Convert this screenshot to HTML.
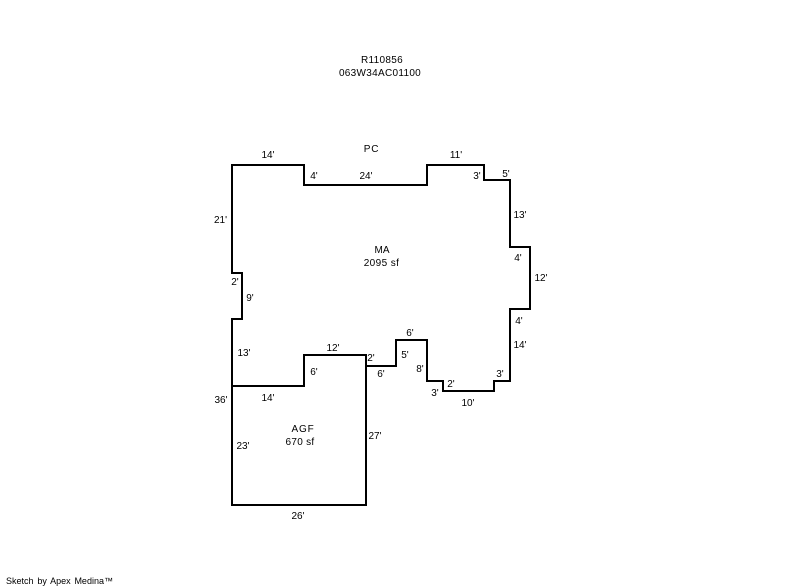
<!DOCTYPE html>
<html><head><meta charset="utf-8"><style>
html,body{margin:0;padding:0;background:#fff;width:800px;height:587px;overflow:hidden}
svg{display:block}
text{font-family:"Liberation Sans",sans-serif;font-size:10px;fill:#000;text-anchor:middle}
</style></head><body>
<svg width="800" height="587" viewBox="0 0 800 587" xmlns="http://www.w3.org/2000/svg">
<path d="M232 165H304V185H427V165H484V180H510V247H530V309H510V381H494V391H443V381H427V340H396V366H366M232 386H304V355H366V505H232V319H242V273H232V165" fill="none" stroke="#000" stroke-width="2" stroke-linecap="square" shape-rendering="crispEdges"/>
<text x="382" y="63" letter-spacing="0.3">R110856</text>
<text x="380" y="76" letter-spacing="0.3">063W34AC01100</text>
<text x="268" y="158">14'</text>
<text x="371.5" y="152" letter-spacing="0.8">PC</text>
<text x="314" y="179">4'</text>
<text x="366" y="179">24'</text>
<text x="456" y="158">11'</text>
<text x="477" y="179">3'</text>
<text x="506" y="177">5'</text>
<text x="520" y="218">13'</text>
<text x="220.5" y="223">21'</text>
<text x="382" y="253">MA</text>
<text x="381.5" y="266" letter-spacing="0.4">2095 sf</text>
<text x="518" y="261">4'</text>
<text x="541" y="281">12'</text>
<text x="235" y="285">2'</text>
<text x="250" y="301">9'</text>
<text x="519" y="324">4'</text>
<text x="520" y="348">14'</text>
<text x="244" y="356">13'</text>
<text x="333" y="351">12'</text>
<text x="371" y="361">2'</text>
<text x="314" y="375">6'</text>
<text x="381" y="377">6'</text>
<text x="410" y="336">6'</text>
<text x="405" y="358">5'</text>
<text x="420" y="372">8'</text>
<text x="500" y="377">3'</text>
<text x="451" y="387">2'</text>
<text x="435" y="396">3'</text>
<text x="468" y="406">10'</text>
<text x="268" y="401">14'</text>
<text x="221" y="403">36'</text>
<text x="303" y="432" letter-spacing="0.8">AGF</text>
<text x="300" y="445" letter-spacing="0.3">670 sf</text>
<text x="243" y="449">23'</text>
<text x="375" y="439">27'</text>
<text x="298" y="519">26'</text>
<text x="6" y="584" style="text-anchor:start;font-size:9px;word-spacing:1.3px">Sketch by Apex Medina™</text>
</svg>
</body></html>
